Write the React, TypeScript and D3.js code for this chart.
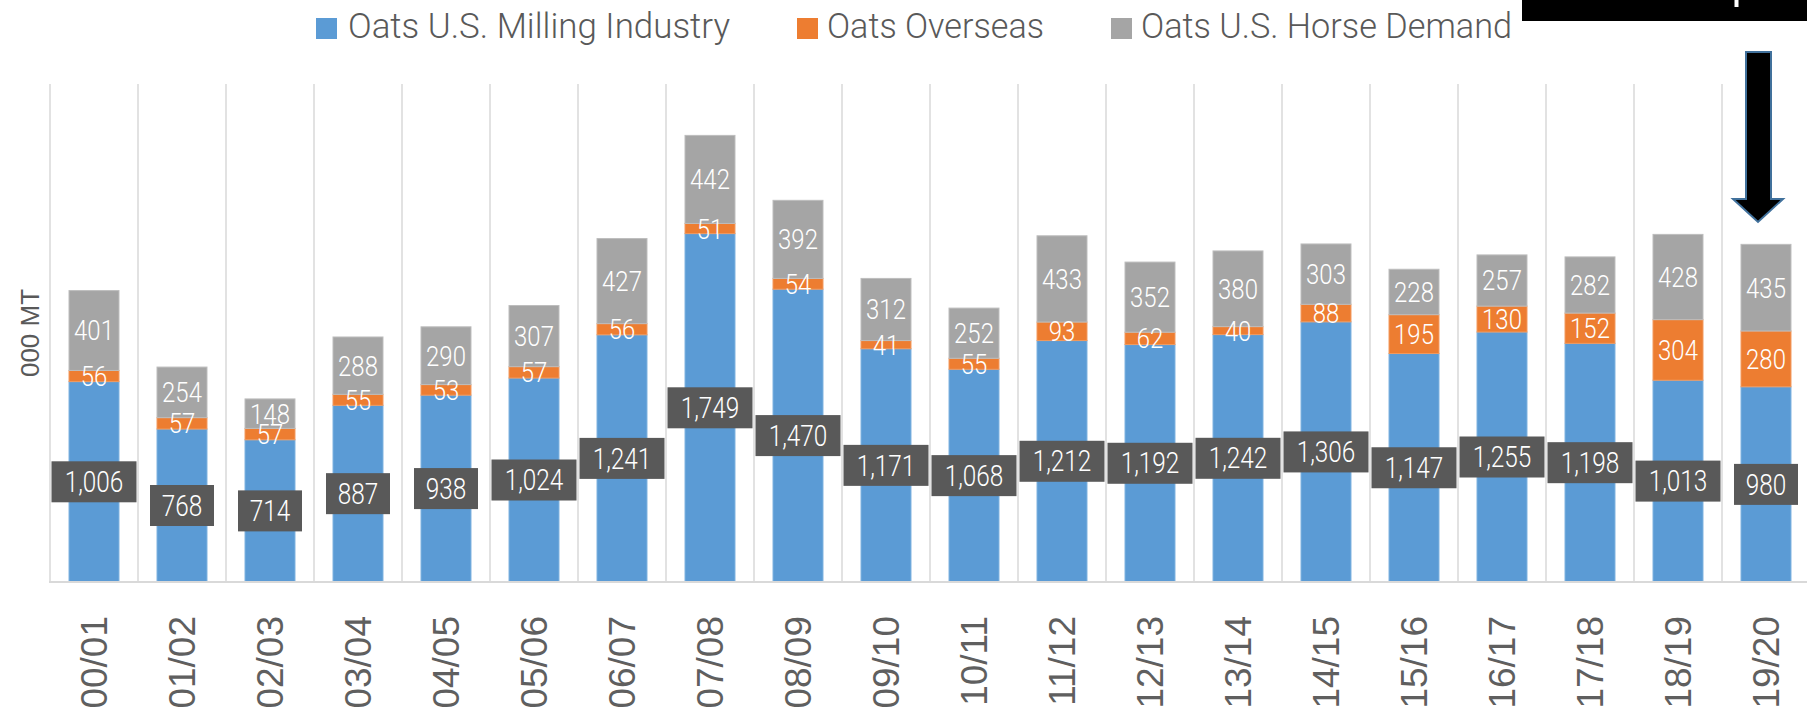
import React from "react";
import * as d3 from "d3";

const categories = ["00/01","01/02","02/03","03/04","04/05","05/06","06/07","07/08","08/09","09/10","10/11","11/12","12/13","13/14","14/15","15/16","16/17","17/18","18/19","19/20"];
const milling = [1006,768,714,887,938,1024,1241,1749,1470,1171,1068,1212,1192,1242,1306,1147,1255,1198,1013,980];
const overseas = [56,57,57,55,53,57,56,51,54,41,55,93,62,40,88,195,130,152,304,280];
const horse = [401,254,148,288,290,307,427,442,392,312,252,433,352,380,303,228,257,282,428,435];
const seriesNames = ["Oats U.S. Milling Industry","Oats Overseas","Oats U.S. Horse Demand"];
const seriesColors = ["#5b9bd5","#ed7d31","#a5a5a5"];
const yMax = 2500;

const W = 1807, H = 711;
const plotLeft = 50, plotRight = 1810, plotTop = 84, plotBottom = 582;

export default function App() {
  const x = d3.scaleBand<string>().domain(categories).range([plotLeft, plotRight]).paddingInner(0.432).paddingOuter(0.216);
  const xCat = d3.scaleBand<string>().domain(categories).range([plotLeft, plotRight]).padding(0);
  const y = d3.scaleLinear().domain([0, yMax]).range([plotBottom, plotTop]);

  const rows = categories.map((c, i) => ({ cat: c, m: milling[i], o: overseas[i], h: horse[i] }));
  const stack = d3.stack<any>().keys(["m", "o", "h"])(rows);

  const fmt = d3.format(",");
  const labelFont = "Roboto, 'Noto Sans', sans-serif";

  const boxW = (s: string) => {
    const digits = s.replace(/[^0-9]/g, "").length;
    const commas = s.length - digits;
    return digits * 13 + commas * 8 + 25;
  };

  const legendItems = [
    { sx: 316, tx: 348, tw: 382 },
    { sx: 797, tx: 827, tw: 217 },
    { sx: 1111, tx: 1141, tw: 371 },
  ];

  return (
    <svg width={W} height={H} style={{ position: "absolute", left: 0, top: 0, background: "#fff" }}>
      {/* vertical gridlines */}
      {categories.map((c) => (
        <line key={"g" + c} x1={xCat(c)!} x2={xCat(c)!} y1={plotTop} y2={plotBottom} stroke="#d9d9d9" strokeWidth={1.5} />
      ))}
      <line x1={plotRight} x2={plotRight} y1={plotTop} y2={plotBottom} stroke="#d9d9d9" strokeWidth={1.5} />

      {/* bars */}
      {stack.map((layer, si) => (
        <g key={"s" + si} fill={seriesColors[si]}>
          {layer.map((d, i) => (
            <rect key={i} x={x(categories[i])!} width={x.bandwidth()} y={y(d[1])} height={y(d[0]) - y(d[1])}
              stroke={si === 0 ? "#7fb2e0" : si === 1 ? "#f29a5e" : "#bdbdbd"} strokeWidth={1} />
          ))}
        </g>
      ))}

      {/* baseline */}
      <line x1={plotLeft - 1} x2={W} y1={plotBottom} y2={plotBottom} stroke="#d9d9d9" strokeWidth={2.2} />

      {/* gray & orange labels */}
      {[2, 1].map((si) => (
        <g key={"l" + si}>
          {stack[si].map((d, i) => {
            const cx = x(categories[i])! + x.bandwidth() / 2;
            const cy = (y(d[0]) + y(d[1])) / 2;
            const v = si === 1 ? overseas[i] : horse[i];
            return (
              <text key={i} transform={`translate(${cx},${cy}) scale(0.84,1)`} textAnchor="middle" dy="0.35em"
                fill="#fff" fontFamily={labelFont} fontWeight={300} fontSize={28.5}>{fmt(v)}</text>
            );
          })}
        </g>
      ))}

      {/* milling labels in dark boxes */}
      {stack[0].map((d, i) => {
        const cx = x(categories[i])! + x.bandwidth() / 2;
        const cy = (y(d[0]) + y(d[1])) / 2;
        const s = fmt(milling[i]);
        const bw = boxW(s);
        return (
          <g key={"m" + i}>
            <rect x={cx - bw / 2} y={cy - 20.5} width={bw} height={41} fill="#595959" />
            <text transform={`translate(${cx},${cy}) scale(0.84,1)`} textAnchor="middle" dy="0.35em"
              fill="#fff" fontFamily={labelFont} fontWeight={300} fontSize={29}>{s}</text>
          </g>
        );
      })}

      {/* x axis labels */}
      {categories.map((c) => (
        <text key={"x" + c} transform={`translate(${xCat(c)! + xCat.bandwidth() / 2},616) rotate(-90)`} textAnchor="end" dy="0.35em"
          fill="#5f5f5f" fontFamily="'Liberation Sans', Arial, sans-serif" fontSize={37}>{c}</text>
      ))}

      {/* y axis title */}
      <text transform={`translate(29.5,${(plotTop + plotBottom) / 2}) rotate(-90)`} textAnchor="middle" dy="0.35em"
        fill="#595959" fontFamily="'Liberation Sans', Arial, sans-serif" fontSize={26}>000 MT</text>

      {/* legend */}
      {seriesNames.map((n, i) => (
        <g key={"lg" + i}>
          <rect x={legendItems[i].sx} y={18} width={21} height={21} fill={seriesColors[i]} />
          <text x={legendItems[i].tx} y={38} fill="#595959" fontFamily={labelFont} fontWeight={300} fontSize={35}
            textLength={legendItems[i].tw} lengthAdjust="spacingAndGlyphs">{n}</text>
        </g>
      ))}

      {/* annotation: black box and arrow */}
      <rect x={1522} y={0} width={W - 1522} height={21} fill="#000" />
      <line x1={1736.5} x2={1736.5} y1={0} y2={7} stroke="#fff" strokeWidth={4} />
      <path d="M1746,52 L1771,52 L1771,199 L1783,199 L1758,222 L1733,199 L1746,199 Z" fill="#000" stroke="#41719c" strokeWidth={2} />
    </svg>
  );
}
